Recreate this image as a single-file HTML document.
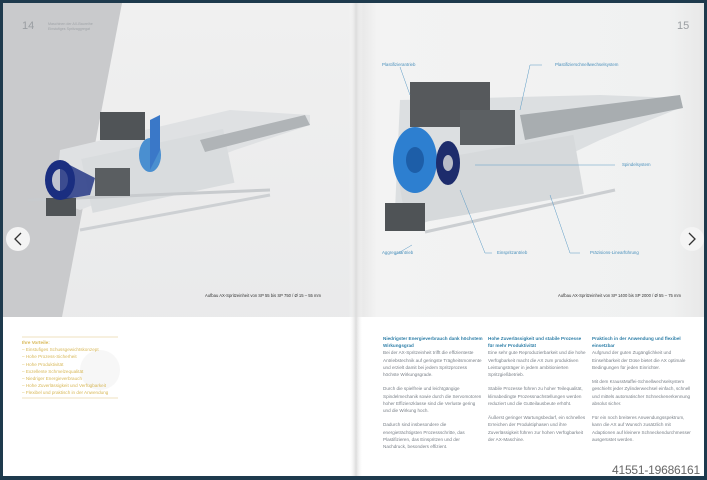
<!DOCTYPE html>
<html><head><meta charset="utf-8"><style>
*{margin:0;padding:0;box-sizing:border-box}
body{width:707px;height:480px;background:#1e3a4d;position:relative;overflow:hidden;font-family:"Liberation Sans",sans-serif}
.pg{position:absolute;top:3px;height:473px;background:#fff}
.t{position:absolute;font-size:4.6px;line-height:7.2px;color:#7a8088}
.h{color:#2f7fa8;font-weight:bold}
.lab{position:absolute;font-size:4.4px;color:#4a90bc}
</style></head><body>
<div class="pg" style="left:3px;width:353px;background:linear-gradient(#f0f0f0,#e6e7e8)"></div>
<div class="pg" style="left:356px;width:348px;background:linear-gradient(90deg,#e4e4e4,#f3f3f3 6%,#f0f1f1 90%,#e8e8e8)"></div>
<svg style="position:absolute;left:0;top:0" width="707" height="480">
<defs><linearGradient id="sp" x1="0" x2="1"><stop offset="0" stop-color="#fff" stop-opacity="0"/><stop offset=".5" stop-color="#dcdcdc"/><stop offset="1" stop-color="#fff" stop-opacity="0"/></linearGradient></defs>
<polygon points="3,3 122,3 62,317 3,317" fill="#c9cacc"/>
<rect x="3" y="317" width="701" height="159" fill="#fff"/>
<rect x="349" y="3" width="14" height="473" fill="url(#sp)"/>
<!-- left machine -->
<g>
<polygon points="60,150 230,110 310,115 310,125 235,150 80,210 55,200" fill="#dfe1e3"/>
<rect x="85" y="145" width="145" height="55" fill="#d9dcde" transform="rotate(-12 150 170)"/>
<polygon points="200,140 305,115 310,125 205,152" fill="#b0b4b7"/>
<line x1="28" y1="200" x2="270" y2="190" stroke="#c8cbce" stroke-width="3"/>
<line x1="80" y1="230" x2="270" y2="195" stroke="#cdd0d3" stroke-width="3"/>
<rect x="100" y="112" width="45" height="28" fill="#505457"/>
<rect x="95" y="168" width="35" height="28" fill="#5a5e61"/>
<rect x="46" y="198" width="30" height="18" fill="#4f5356"/>
<ellipse cx="60" cy="180" rx="15" ry="20" fill="#1a2e80"/>
<ellipse cx="60" cy="180" rx="8" ry="11" fill="#c0c4d0"/>
<polygon points="60,160 95,178 90,195 60,200" fill="#1a2e80" opacity=".8"/>
<ellipse cx="150" cy="155" rx="11" ry="17" fill="#4a8fd0"/>
<polygon points="150,120 160,115 160,150 150,170" fill="#3a78c8"/>
</g>
<!-- right machine -->
<g>
<polygon points="400,100 600,95 680,98 680,108 600,140 420,225 395,210" fill="#dcdfe1"/>
<polygon points="520,115 680,95 683,108 525,140" fill="#a8adb0"/>
<rect x="400" y="150" width="180" height="60" fill="#d6d9db" transform="rotate(-10 490 180)"/>
<line x1="425" y1="232" x2="615" y2="190" stroke="#cbced1" stroke-width="3"/>
<rect x="410" y="82" width="80" height="45" fill="#56595c"/>
<rect x="460" y="110" width="55" height="35" fill="#5c6063"/>
<rect x="385" y="203" width="40" height="28" fill="#4f5356"/>
<ellipse cx="415" cy="160" rx="22" ry="33" fill="#2d7fd0"/>
<ellipse cx="415" cy="160" rx="9" ry="13" fill="#1d5ea8"/>
<ellipse cx="448" cy="163" rx="12" ry="22" fill="#1d2c6c"/>
<ellipse cx="448" cy="163" rx="5" ry="8" fill="#b8bcc8"/>
</g>
<g stroke="#5a9ac5" stroke-width=".5" fill="none">
<polyline points="400,67 410,95"/>
<polyline points="542,65 530,65 520,110"/>
<polyline points="475,165 615,165"/>
<polyline points="412,245 395,255"/>
<polyline points="460,190 485,253 492,253"/>
<polyline points="550,195 570,253 580,253"/>
</g>
<circle cx="18" cy="239" r="12" fill="#f4f4f4"/>
<polyline points="21,233 15,239 21,245" stroke="#333" stroke-width="1.3" fill="none"/>
<circle cx="692" cy="239" r="12" fill="#f4f4f4"/>
<polyline points="689,233 695,239 689,245" stroke="#333" stroke-width="1.3" fill="none"/>
<line x1="22" y1="337" x2="118" y2="337" stroke="#e0c680" stroke-width=".6"/>
<line x1="22" y1="398" x2="118" y2="398" stroke="#e0c680" stroke-width=".6"/>
<circle cx="100" cy="370" r="20" fill="#f7f7f7"/>
</svg>
<div style="position:absolute;left:22px;top:20px;font-size:11px;color:#9a9ea2">14</div>
<div class="t" style="left:48px;top:22px;font-size:3.6px;line-height:4.5px;color:#a0a4a8">Maschinen der AX-Baureihe<br>Einstufiges Spritzaggregat</div>
<div style="position:absolute;left:677px;top:20px;font-size:11px;color:#9a9ea2">15</div>
<div class="lab" style="left:382px;top:62px">Plastifizierantrieb</div>
<div class="lab" style="left:555px;top:62px">Plastifizierschnellwechselsystem</div>
<div class="lab" style="left:622px;top:162px">Spindelsystem</div>
<div class="lab" style="left:382px;top:250px">Aggregatantrieb</div>
<div class="lab" style="left:497px;top:250px">Einspritzantrieb</div>
<div class="lab" style="left:590px;top:250px">Präzisions-Linearführung</div>
<div class="t" style="left:205px;top:292px;font-size:4.2px;color:#333">Aufbau AX-Spritzeinheit von SP 55 bis SP 750 / Ø 15 – 55 mm</div>
<div class="t" style="left:558px;top:292px;font-size:4.2px;color:#333">Aufbau AX-Spritzeinheit von SP 1400 bis SP 2000 / Ø 55 – 75 mm</div>
<div class="t" style="left:22px;top:339px;color:#d8b858"><b>Ihre Vorteile:</b><br>– Einstufiges Schussgewichtskonzept<br>– Hohe Prozess-Sicherheit<br>– Hohe Produktivität<br>– Exzellente Schmelzequalität<br>– Niedriger Energieverbrauch<br>– Hohe Zuverlässigkeit und Verfügbarkeit<br>– Flexibel und praktisch in der Anwendung</div>
<div class="t" style="left:383px;top:335px;width:100px"><span class="h">Niedrigster Energieverbrauch dank höchstem Wirkungsgrad</span><br>Bei der AX-Spritzeinheit trifft die effizienteste Antriebstechnik auf geringste Trägheitsmomente und erzielt damit bei jedem Spritzprozess höchste Wirkungsgrade.<br><br>Durch die spielfreie und leichtgängige Spindelmechanik sowie durch die Servomotoren hoher Effizienzklasse sind die Verluste gering und die Wirkung hoch.<br><br>Dadurch sind insbesondere die energieträchtigsten Prozessschritte, das Plastifizieren, das Einspritzen und der Nachdruck, besonders effizient.</div>
<div class="t" style="left:488px;top:335px;width:100px"><span class="h">Hohe Zuverlässigkeit und stabile Prozesse für mehr Produktivität</span><br>Eine sehr gute Reproduzierbarkeit und die hohe Verfügbarkeit macht die AX zum produktiven Leistungsträger in jedem ambitionierten Spritzgießbetrieb.<br><br>Stabile Prozesse führen zu hoher Teilequalität, klimabedingte Prozessnachstellungen werden reduziert und die Gutteilausbeute erhöht.<br><br>Äußerst geringer Wartungsbedarf, ein schnelles Erreichen der Produktiphasen und ihre Zuverlässigkeit führen zur hohen Verfügbarkeit der AX-Maschine.</div>
<div class="t" style="left:592px;top:335px;width:100px"><span class="h">Praktisch in der Anwendung und flexibel einsetzbar</span><br>Aufgrund der guten Zugänglichkeit und Einsehbarkeit der Düse bietet die AX optimale Bedingungen für jeden Einrichter.<br><br>Mit dem KraussMaffei-Schnellwechselsystem geschieht jeder Zylinderwechsel einfach, schnell und mittels automatischer Schneckenerkennung absolut sicher.<br><br>Für ein noch breiteres Anwendungsspektrum, kann die AX auf Wunsch zusätzlich mit Adaptionen auf kleinere Schneckendurchmesser ausgerüstet werden.</div>
<div style="position:absolute;left:612px;top:463px;font-size:12px;color:#666;letter-spacing:-.2px">41551-19686161</div>
</body></html>
